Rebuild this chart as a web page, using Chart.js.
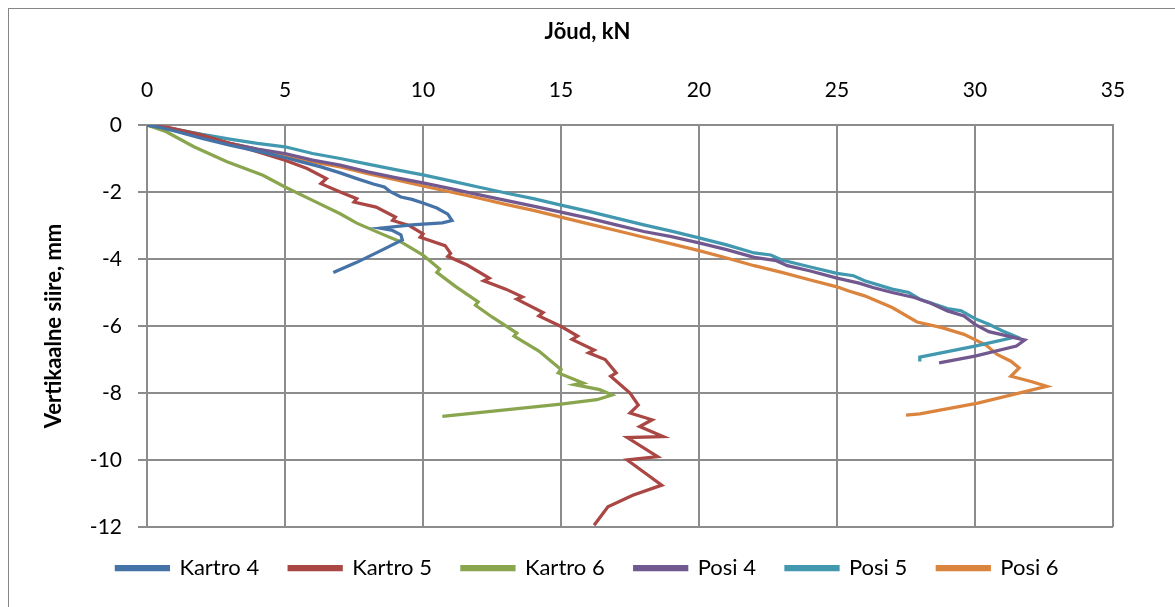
<!DOCTYPE html>
<html>
<head>
<meta charset="utf-8">
<script src="https://cdn.jsdelivr.net/npm/chart.js@4.4.1/dist/chart.umd.min.js"></script>
<style>
  body { margin: 0; background: #fff; }
  canvas { display: block; }
</style>
</head>
<body>
<canvas id="forceChart" width="1175" height="607"></canvas>
<script>
// force (kN) and vertical displacement (mm) per test
const kartro4Force = [0, 0.5, 1, 2, 3, 4, 5, 5.6, 6.3, 7.0, 7.6, 8.2, 8.6, 8.8, 9.2, 9.6, 10.0, 10.5, 10.9, 11.05, 10.7, 9.6, 8.45, 8.9, 9.2, 9.25, 8.4, 7.6, 6.75];
const kartro4Disp = [0, -0.08, -0.18, -0.4, -0.6, -0.78, -0.97, -1.1, -1.25, -1.43, -1.6, -1.76, -1.85, -1.98, -2.15, -2.22, -2.33, -2.48, -2.66, -2.85, -2.92, -2.98, -3.08, -3.15, -3.28, -3.43, -3.78, -4.1, -4.4];

const kartro5Force = [0, 0.8, 2, 3, 4, 5, 5.8, 6.5, 6.3, 7.0, 7.6, 7.5, 8.3, 9.0, 8.9, 9.5, 10, 9.9, 10.8, 11.0, 10.9, 11.6, 12.4, 12.2, 13.0, 13.6, 13.4, 14.35, 14.2, 15.04, 15.6, 15.4, 16.2, 16.0, 16.6, 17.0, 16.8, 17.5, 17.8, 17.5, 18.3, 17.85, 18.7, 17.4, 18.5, 17.4, 18.65, 17.6, 16.7, 16.2];
const kartro5Disp = [0, -0.08, -0.3, -0.55, -0.8, -1.05, -1.3, -1.6, -1.75, -2.0, -2.2, -2.3, -2.45, -2.75, -2.85, -3.0, -3.25, -3.35, -3.6, -3.83, -3.92, -4.18, -4.57, -4.65, -4.9, -5.13, -5.2, -5.6, -5.7, -6.03, -6.3, -6.4, -6.72, -6.8, -7.0, -7.4, -7.5, -8.0, -8.36, -8.6, -8.8, -9.0, -9.3, -9.33, -9.9, -10.0, -10.75, -11.05, -11.4, -11.95];

const kartro6Force = [0, 0.7, 1.7, 2.9, 4.2, 5, 6, 7, 7.6, 8.5, 9.2, 10, 10.6, 10.5, 11.2, 12, 11.9, 12.5, 13.4, 13.3, 14.2, 15.0, 14.9, 15.8, 15.5, 16.4, 16.85, 16.3, 15, 10.7];
const kartro6Disp = [0, -0.2, -0.65, -1.1, -1.5, -1.85, -2.25, -2.65, -2.93, -3.25, -3.49, -3.88, -4.3, -4.4, -4.83, -5.28, -5.38, -5.73, -6.21, -6.3, -6.75, -7.3, -7.4, -7.7, -7.75, -7.9, -8.06, -8.2, -8.33, -8.7];

const posi4Force = [0, 1, 2, 3, 4, 5, 6, 7, 8, 9, 10, 11, 12, 13, 14, 15, 16, 17, 18, 19, 20, 21, 22, 22.8, 23.2, 24, 25, 25.8, 26.3, 27, 27.8, 28.4, 29, 29.6, 30, 30.5, 31.2, 31.8, 31.5, 30, 28.7];
const posi4Disp = [0, -0.15, -0.35, -0.55, -0.72, -0.85, -1.05, -1.2, -1.4, -1.57, -1.73, -1.9, -2.08, -2.25, -2.42, -2.6, -2.78, -2.98, -3.18, -3.33, -3.52, -3.72, -3.95, -4.05, -4.2, -4.35, -4.57, -4.72, -4.85, -5.0, -5.15, -5.32, -5.55, -5.7, -5.95, -6.17, -6.3, -6.42, -6.6, -6.9, -7.1];

const posi5Force = [0, 1, 2, 3, 4, 5, 6, 7, 8, 9, 10, 11, 12, 13, 14, 15, 16, 17, 18, 19, 20, 21, 22, 22.6, 23, 24, 25, 25.6, 26, 27, 27.6, 28, 29, 29.5, 30, 30.5, 31.0, 31.5, 30, 28, 28.0];
const posi5Disp = [0, -0.12, -0.28, -0.42, -0.55, -0.65, -0.85, -1.0, -1.17, -1.33, -1.49, -1.67, -1.85, -2.03, -2.2, -2.39, -2.58, -2.78, -2.98, -3.17, -3.37, -3.58, -3.82, -3.88, -4.03, -4.23, -4.43, -4.5, -4.65, -4.9, -5.0, -5.2, -5.48, -5.55, -5.78, -5.95, -6.15, -6.32, -6.6, -6.93, -7.06];

const posi6Force = [0, 1, 2, 3, 4, 5, 6, 7, 8, 9, 10, 11, 12, 13, 14, 15, 16, 17, 18, 19, 20, 21, 22, 23, 24, 25, 25.4, 26, 27, 27.9, 28.8, 29.6, 30.4, 30.8, 31.3, 31.6, 31.3, 32.0, 32.6, 30.1, 28.0, 27.5];
const posi6Disp = [0, -0.15, -0.35, -0.55, -0.73, -0.9, -1.1, -1.25, -1.45, -1.63, -1.82, -2.0, -2.18, -2.37, -2.55, -2.75, -2.95, -3.15, -3.35, -3.55, -3.75, -3.97, -4.2, -4.4, -4.62, -4.83, -4.95, -5.1, -5.45, -5.88, -6.05, -6.25, -6.57, -6.85, -7.05, -7.25, -7.5, -7.65, -7.8, -8.3, -8.62, -8.66];

const seriesNames = ['Kartro 4', 'Kartro 5', 'Kartro 6', 'Posi 4', 'Posi 5', 'Posi 6'];
const forceTicks = [0, 5, 10, 15, 20, 25, 30, 35];
const dispTicks = [0, -2, -4, -6, -8, -10, -12];

const colors = ['#4572a7', '#aa4643', '#89a54e', '#71588f', '#4198af', '#db843d'];
const forces = [kartro4Force, kartro5Force, kartro6Force, posi4Force, posi5Force, posi6Force];
const disps = [kartro4Disp, kartro5Disp, kartro6Disp, posi4Disp, posi5Disp, posi6Disp];

function toPoints(xs, ys) {
  return xs.map((x, i) => ({ x: x, y: ys[i] }));
}

const gridColor = '#8c8c8c';
const fontName = 'Lato';

// outer chart frame (excel style)
const framePlugin = {
  id: 'frame',
  beforeDraw(chart) {
    const ctx = chart.ctx;
    ctx.save();
    ctx.fillStyle = '#fff';
    ctx.fillRect(0, 0, chart.width, chart.height);
    ctx.strokeStyle = '#868686';
    ctx.lineWidth = 1;
    ctx.strokeRect(8.5, 8.5, 1400, 900);
    ctx.restore();
  }
};

const ctx = document.getElementById('forceChart').getContext('2d');

const chart = new Chart(ctx, {
  type: 'line',
  data: {
    datasets: seriesNames.map((name, i) => ({
      label: name,
      data: toPoints(forces[i], disps[i]),
      borderColor: colors[i],
      backgroundColor: colors[i],
      borderWidth: 3.25,
      pointRadius: 0,
      tension: 0
    }))
  },
  options: {
    responsive: false,
    animation: false,
    layout: { padding: { left: 0, top: 0, right: 0, bottom: 18 } },
    plugins: {
      tooltip: { enabled: false },
      title: {
        display: true,
        text: 'Jõud, kN',
        color: '#000',
        font: { family: fontName, size: 22, weight: 'bold' },
        padding: { top: 19, bottom: 0 }
      },
      legend: {
        position: 'bottom',
        labels: {
          color: '#000',
          font: { family: fontName, size: 22 },
          boxWidth: 52,
          boxHeight: 3,
          padding: 30
        }
      }
    },
    scales: {
      x: {
        type: 'linear',
        position: 'top',
        min: 0,
        max: 35,
        afterBuildTicks: s => { s.ticks = forceTicks.map(v => ({ value: v })); },
        ticks: { color: '#000', font: { family: fontName, size: 21 }, padding: 22 },
        grid: { color: gridColor, lineWidth: 2, drawTicks: false },
        border: { color: gridColor, width: 2 },
        afterFit: s => { s.height = 125 - 45.4; }
      },
      y: {
        type: 'linear',
        min: -12,
        max: 0,
        afterBuildTicks: s => { s.ticks = dispTicks.map(v => ({ value: v })); },
        ticks: { color: '#000', font: { family: fontName, size: 21 }, padding: 16 },
        grid: { color: gridColor, lineWidth: 2, tickLength: 9 },
        border: { color: gridColor, width: 2 },
        title: {
          display: true,
          text: 'Vertikaalne siire, mm',
          color: '#000',
          font: { family: fontName, size: 22, weight: 'bold' },
          padding: { top: 41, bottom: 0 }
        },
        afterFit: s => { s.width = 147; }
      },
      // empty right-hand strip, keeps the plot area off the right edge
      spacer: {
        type: 'linear',
        position: 'right',
        display: true,
        ticks: { display: false },
        grid: { display: false },
        border: { display: false },
        afterFit: s => { s.width = 62; }
      }
    }
  },
  plugins: [framePlugin]
});
</script>
</body>
</html>
